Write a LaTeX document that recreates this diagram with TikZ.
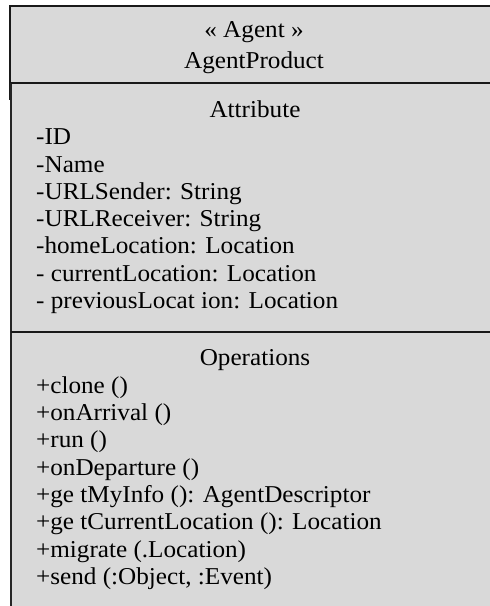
\documentclass[tikz,border=0pt]{standalone}
\usepackage{fontspec}
\setmainfont{Liberation Serif}[FakeStretch=1.04]
\begin{document}
\begin{tikzpicture}[x=1pt,y=-1pt,
  umlfill/.style={fill=boxgray},
  rule/.style={line width=2.3pt,draw=black!90},
  title/.style={anchor=base,inner sep=0pt,font=\fontsize{24.2}{27}\selectfont},
  member/.style={anchor=base west,inner sep=0pt,font=\fontsize{24.2}{27}\selectfont}]
\definecolor{boxgray}{HTML}{D9D9D9}
\useasboundingbox (0,0) rectangle (490,606);
% class body
\fill[umlfill] (10,6) rectangle (500,620);
% borders and compartment dividers
\draw[rule] (500,6) -- (10,6) -- (10,100);
\draw[line width=1.8pt,draw=black!85] (11.3,83) -- (11.3,620);
\draw[rule] (11.3,83) -- (500,83);
\draw[rule] (11.3,332) -- (500,332);
% header
\node[title] (stereo) at (254,37) {« Agent »};
\node[title] (cname) at (254,68) {AgentProduct};
% attributes
\node[title] (attr) at (255,117) {Attribute};
\node[member] (a1) at (36,144) {-ID};
\node[member] (a2) at (36,172) {-Name};
\node[member] (a3) at (36,199) {-URLSender: String};
\node[member] (a4) at (36,226) {-URLReceiver: String};
\node[member] (a5) at (36,253) {-homeLocation: Location};
\node[member] (a6) at (36,281) {- currentLocation: Location};
\node[member] (a7) at (36,308) {- previousLocat ion: Location};
% operations
\node[title] (ops) at (255,365) {Operations};
\node[member] (o1) at (36,393) {+clone ()};
\node[member] (o2) at (36,420) {+onArrival ()};
\node[member] (o3) at (36,447) {+run ()};
\node[member] (o4) at (36,475) {+onDeparture ()};
\node[member] (o5) at (36,502) {+ge tMyInfo (): AgentDescriptor};
\node[member] (o6) at (36,529) {+ge tCurrentLocation (): Location};
\node[member] (o7) at (36,557) {+migrate (.Location)};
\node[member] (o8) at (36,584) {+send (:Object, :Event)};
\end{tikzpicture}
\end{document}
